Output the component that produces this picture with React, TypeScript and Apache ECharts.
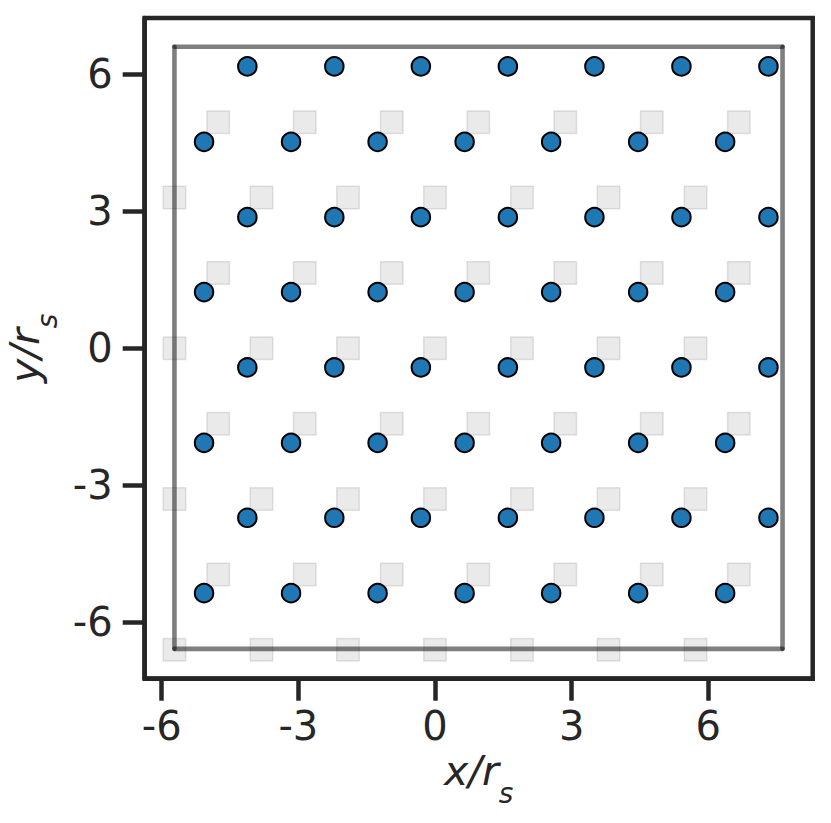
import React, { useEffect, useRef } from 'react';
import * as echarts from 'echarts';

// Tick labels
const tickValues = [-6, -3, 0, 3, 6];

// Gray squares (reference lattice): rows and columns
const squareRowsOddY = [4.95, 1.65, -1.65, -4.95];
const squareRowsEvenY = [3.3, 0, -3.3, -6.6];
const squareColsOdd = [-4.76, -2.86, -0.95, 0.95, 2.86, 4.76, 6.67];
const squareColsEven = [-5.72, -3.81, -1.91, 0, 1.91, 3.81, 5.72];

// Blue circles (displaced lattice)
const circleRowsAY = [6.17, 2.87, -0.42, -3.71];
const circleRowsBY = [4.52, 1.23, -2.07, -5.36];
const circleColsA = [-4.12, -2.21, -0.31, 1.6, 3.5, 5.41, 7.32];
const circleColsB = [-5.07, -3.16, -1.26, 0.65, 2.55, 4.46, 6.37];

// Simulation box edges
const boxX = [-5.72, 7.63];
const boxY = [-6.58, 6.6];

const TEXT = '#262626';
const FONT = "'DejaVu Sans', sans-serif";

function grid(rows: number[], cols: number[]): number[][] {
  const out: number[][] = [];
  rows.forEach((y) => cols.forEach((x) => out.push([x, y])));
  return out;
}

export default function App() {
  const ref = useRef<HTMLDivElement>(null);
  useEffect(() => {
    if (!ref.current) return;
    const chart = echarts.init(ref.current, undefined, { renderer: 'svg' });
    const squares = [...grid(squareRowsOddY, squareColsOdd), ...grid(squareRowsEvenY, squareColsEven)];
    const circles = [...grid(circleRowsAY, circleColsA), ...grid(circleRowsBY, circleColsB)];
    const edges = [
      [[boxX[0], boxY[0]], [boxX[1], boxY[0]]],
      [[boxX[0], boxY[1]], [boxX[1], boxY[1]]],
      [[boxX[0], boxY[0]], [boxX[0], boxY[1]]],
      [[boxX[1], boxY[0]], [boxX[1], boxY[1]]],
    ];
    const nameRich = {
      m: { fontSize: 41, fontStyle: 'italic', fontFamily: FONT, color: TEXT, verticalAlign: 'bottom', lineHeight: 60, padding: [0, 0, 16, 0] },
      s: { fontSize: 28, fontStyle: 'italic', fontFamily: FONT, color: TEXT, verticalAlign: 'bottom', lineHeight: 60 },
    };
    const axisCommon = {
      type: 'value',
      splitLine: { show: false },
      axisLine: { show: true, onZero: false, lineStyle: { color: TEXT, width: 4.5 } },
      axisTick: { show: true, length: 22, customValues: tickValues, lineStyle: { color: TEXT, width: 4.5 } },
      nameLocation: 'middle',
    };
    chart.setOption({
      animation: false,
      backgroundColor: '#ffffff',
      grid: {
        left: 144.7,
        top: 18,
        width: 668,
        height: 660.7,
        containLabel: false,
        outerBoundsMode: 'none',
        show: true,
        borderColor: TEXT,
        borderWidth: 4.5,
        backgroundColor: 'transparent',
      },
      xAxis: {
        ...axisCommon,
        min: -6.373,
        max: 8.292,
        axisLabel: { customValues: tickValues, fontSize: 40, color: TEXT, fontFamily: FONT, margin: 27 },
        name: '{m|x/r}{s|s}',
        nameGap: 69,
        nameTextStyle: { rich: nameRich },
      },
      yAxis: {
        ...axisCommon,
        min: -7.233,
        max: 7.23,
        axisLabel: { customValues: tickValues, fontSize: 40, color: TEXT, fontFamily: FONT, margin: 32 },
        name: '{m|y/r}{s|s}',
        nameGap: 74,
        nameRotate: 90,
        nameTextStyle: { rich: nameRich },
      },
      series: [
        {
          type: 'scatter',
          data: squares,
          symbol: 'rect',
          symbolSize: 22.5,
          z: 1,
          silent: true,
          itemStyle: { color: 'rgba(0,0,0,0.105)', borderColor: 'rgba(0,0,0,0.13)', borderWidth: 1.5 },
        },
        ...edges.map((e) => ({
          type: 'line',
          data: e,
          showSymbol: false,
          symbol: 'none',
          z: 2,
          silent: true,
          lineStyle: { color: 'rgba(0,0,0,0.5)', width: 4.6, cap: 'round' },
        })),
        {
          type: 'scatter',
          data: circles,
          symbol: 'circle',
          symbolSize: 18.5,
          z: 3,
          silent: true,
          itemStyle: { color: '#1f77b4', borderColor: '#000000', borderWidth: 2, opacity: 1 },
        },
      ],
    });
    return () => chart.dispose();
  }, []);
  return <div ref={ref} style={{ position: 'fixed', left: 0, top: 0, width: 831, height: 823 }} />;
}
